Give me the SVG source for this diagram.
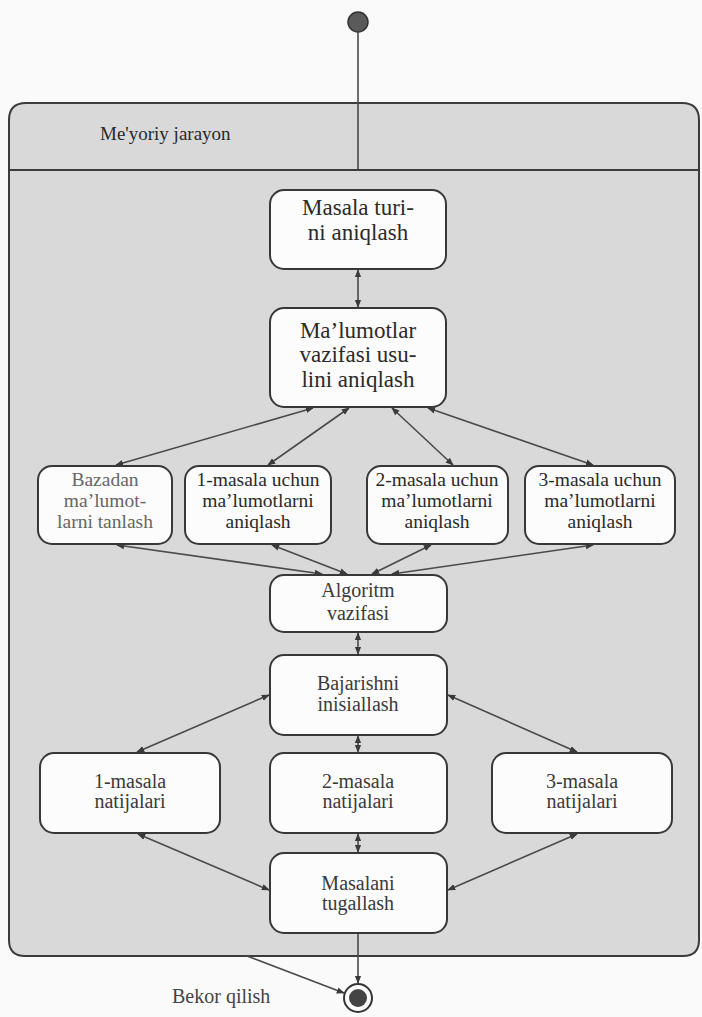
<svg xmlns="http://www.w3.org/2000/svg" width="702" height="1017" viewBox="0 0 702 1017">
<style>
.bg{fill:#fafafa}
.frame{fill:#d9d9d9;stroke:#3c3c3c;stroke-width:2}
.box{fill:#fcfcfc;stroke:#383838;stroke-width:2}
.t{font-family:"Liberation Serif","Times New Roman",serif;text-anchor:middle;fill:#2a2a2a}
.l{font-size:23px}
.m{font-size:19.5px}
.s{font-size:20px;fill:#3a3a3a}
.light{fill:#666}
.c{stroke:#4a4a4a;stroke-width:1.6;fill:none}
.bi{marker-start:url(#ah);marker-end:url(#ah)}
.one{marker-end:url(#ah)}
</style>
<defs>
<marker id="ah" viewBox="0 0 10 10" refX="9" refY="5" markerWidth="8" markerHeight="8" markerUnits="userSpaceOnUse" orient="auto-start-reverse">
<path d="M0,1 L10,5 L0,9 z" fill="#3a3a3a"/>
</marker>
</defs>
<rect class="bg" x="0" y="0" width="702" height="1017"/>
<g id="container">
<path class="frame" d="M9,120 Q9,103 26,103 H682 Q699,103 699,120 V940 Q699,956 683,956 H25 Q9,956 9,940 Z"/>
<line x1="9" y1="170" x2="699" y2="170" stroke="#3c3c3c" stroke-width="2"/>
<text x="100" y="140" font-family="'Liberation Serif','Times New Roman',serif" font-size="19" fill="#2a2a2a">Me'yoriy jarayon</text>
</g>
<g id="start"><circle cx="358" cy="22" r="10" fill="#5a5a5a" stroke="#333" stroke-width="1.5"/></g>
<g id="connectors">
<line class="c" x1="358" y1="32" x2="358" y2="169"/>
<line class="c bi" x1="358" y1="270" x2="358" y2="307"/>
<line class="c bi" x1="313" y1="408" x2="116" y2="465"/>
<line class="c bi" x1="349" y1="408" x2="268" y2="465"/>
<line class="c bi" x1="392" y1="408" x2="453" y2="465"/>
<line class="c bi" x1="428" y1="408" x2="593" y2="465"/>
<line class="c bi" x1="117" y1="545" x2="322" y2="574"/>
<line class="c bi" x1="272" y1="545" x2="347" y2="574"/>
<line class="c bi" x1="431" y1="545" x2="372" y2="574"/>
<line class="c bi" x1="593" y1="545" x2="392" y2="574"/>
<line class="c bi" x1="358" y1="633" x2="358" y2="654"/>
<line class="c bi" x1="269" y1="695" x2="137" y2="752"/>
<line class="c bi" x1="448" y1="695" x2="577" y2="752"/>
<line class="c bi" x1="358" y1="736" x2="358" y2="752"/>
<line class="c bi" x1="358" y1="834" x2="358" y2="852"/>
<line class="c bi" x1="138" y1="834" x2="269" y2="890"/>
<line class="c bi" x1="577" y1="834" x2="448" y2="890"/>
<line class="c one" x1="358" y1="934" x2="358" y2="983"/>
<line class="c one" x1="247" y1="956" x2="344" y2="993"/>
<text x="172" y="1003" font-family="'Liberation Serif','Times New Roman',serif" font-size="20" fill="#444">Bekor qilish</text>
</g>
<g id="n1"><rect class="box" x="270" y="190" width="176" height="79" rx="14"/>
<text class="t l" x="358" y="215">Masala turi-</text><text class="t l" x="358" y="240">ni aniqlash</text></g>
<g id="n2"><rect class="box" x="270" y="308" width="176" height="99" rx="14"/>
<text class="t l" x="358" y="338">Ma’lumotlar</text><text class="t l" x="358" y="362">vazifasi usu-</text><text class="t l" x="358" y="387">lini aniqlash</text></g>
<g id="n3"><rect class="box" x="38" y="466" width="134" height="78" rx="14"/>
<text class="t m light" x="105" y="486">Bazadan</text><text class="t m light" x="105" y="507">ma’lumot-</text><text class="t m light" x="105" y="528">larni tanlash</text></g>
<g id="n4"><rect class="box" x="185" y="466" width="146" height="78" rx="14"/>
<text class="t m" x="258" y="486">1-masala uchun</text><text class="t m" x="258" y="507">ma’lumotlarni</text><text class="t m" x="258" y="528">aniqlash</text></g>
<g id="n5"><rect class="box" x="367" y="466" width="141" height="78" rx="14"/>
<text class="t m" x="437" y="486">2-masala uchun</text><text class="t m" x="437" y="507">ma’lumotlarni</text><text class="t m" x="437" y="528">aniqlash</text></g>
<g id="n6"><rect class="box" x="525" y="466" width="150" height="78" rx="14"/>
<text class="t m" x="600" y="486">3-masala uchun</text><text class="t m" x="600" y="507">ma’lumotlarni</text><text class="t m" x="600" y="528">aniqlash</text></g>
<g id="n7"><rect class="box" x="270" y="575" width="177" height="57" rx="14"/>
<text class="t s" x="358" y="597">Algoritm</text><text class="t s" x="358" y="620">vazifasi</text></g>
<g id="n8"><rect class="box" x="270" y="655" width="177" height="80" rx="14"/>
<text class="t s" x="358" y="690">Bajarishni</text><text class="t s" x="358" y="711">inisiallash</text></g>
<g id="n9"><rect class="box" x="40" y="753" width="180" height="80" rx="14"/>
<text class="t s" x="130" y="788">1-masala</text><text class="t s" x="130" y="808">natijalari</text></g>
<g id="n10"><rect class="box" x="270" y="753" width="177" height="80" rx="14"/>
<text class="t s" x="358" y="788">2-masala</text><text class="t s" x="358" y="808">natijalari</text></g>
<g id="n11"><rect class="box" x="492" y="753" width="180" height="80" rx="14"/>
<text class="t s" x="582" y="788">3-masala</text><text class="t s" x="582" y="808">natijalari</text></g>
<g id="n12"><rect class="box" x="270" y="853" width="177" height="80" rx="14"/>
<text class="t s" x="358" y="890">Masalani</text><text class="t s" x="358" y="910">tugallash</text></g>
<g id="end"><circle cx="358" cy="998" r="14" fill="#fdfdfd" stroke="#333" stroke-width="2"/><circle cx="358" cy="998" r="9" fill="#444"/></g>
</svg>
